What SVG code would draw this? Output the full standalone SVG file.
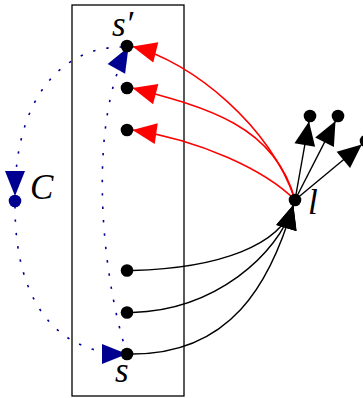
<svg xmlns="http://www.w3.org/2000/svg" width="363" height="398" viewBox="0 0 363 398">
<defs>
<marker id="ab" markerUnits="userSpaceOnUse" markerWidth="28" markerHeight="24" viewBox="-28 -12 28 24" refX="0" refY="0" orient="auto" overflow="visible"><path d="M0,0 L-24,-10.5 L-24,10.5 Z" fill="#000"/></marker>
<marker id="ar" markerUnits="userSpaceOnUse" markerWidth="28" markerHeight="24" viewBox="-28 -12 28 24" refX="0" refY="0" orient="auto" overflow="visible"><path d="M0,0 L-24,-10.5 L-24,10.5 Z" fill="#ff0000"/></marker>
<marker id="au" markerUnits="userSpaceOnUse" markerWidth="28" markerHeight="24" viewBox="-28 -12 28 24" refX="0" refY="0" orient="auto" overflow="visible"><path d="M0,0 L-25,-10 L-25,10 Z" fill="#000090"/></marker>
</defs>
<style>
.blk{fill:none;stroke:#000;stroke-width:1.4}
.red{fill:none;stroke:#ff0000;stroke-width:1.5}
.blu{fill:none;stroke:#000090;stroke-width:1.6;stroke-dasharray:2.4 11}
.lbl{font-family:"Liberation Serif","Times New Roman",serif;font-style:italic;font-size:35px;fill:#000}
</style>
<rect x="72" y="5" width="112" height="391" fill="none" stroke="#000" stroke-width="1.3"/>
<g id="connectors">
<path class="blu" d="M127,354 C100,270 88,120 128.5,47" marker-end="url(#au)"/>
<path class="blu" d="M122,47 C60,47 15,100 15,196" marker-end="url(#au)"/>
<path class="blu" d="M15,206 C15,300 55,354 127,354" marker-end="url(#au)"/>
<path class="red" d="M295,200 C272,128 192.5,61.5 132.5,46.5" marker-end="url(#ar)"/>
<path class="red" d="M295,200 C275,125 205,107 132.5,88" marker-end="url(#ar)"/>
<path class="red" d="M295,200 C265,170 200,140 132.5,130" marker-end="url(#ar)"/>
<path class="blk" d="M132.5,270.5 C220,268 281,245 293.3,205" marker-end="url(#ab)"/>
<path class="blk" d="M132.5,312.5 C215,310 278,255 293.3,205" marker-end="url(#ab)"/>
<path class="blk" d="M132.5,354 C230,354 270,285 293.3,205" marker-end="url(#ab)"/>
<path class="blk" d="M295,200 L309,121.4" marker-end="url(#ab)"/>
<path class="blk" d="M295,200 L335.5,120.9" marker-end="url(#ab)"/>
<path class="blk" d="M295,200 L361.8,144.5" marker-end="url(#ab)"/>
</g>
<g id="s-prime"><circle cx="127" cy="46" r="6.3"/><text class="lbl" x="112" y="36">s′</text></g>
<g id="n2"><circle cx="127" cy="88" r="6.3"/></g>
<g id="n3"><circle cx="127" cy="130" r="6.3"/></g>
<g id="n4"><circle cx="127" cy="270.5" r="6.3"/></g>
<g id="n5"><circle cx="127" cy="312.5" r="6.3"/></g>
<g id="s"><circle cx="127" cy="354" r="6.3"/><text class="lbl" x="115" y="382">s</text></g>
<g id="l"><circle cx="295" cy="200" r="6.3"/><text class="lbl" x="308" y="214">l</text></g>
<g id="t1"><circle cx="310" cy="116" r="6.3"/></g>
<g id="t2"><circle cx="338" cy="116" r="6.3"/></g>
<g id="t3"><circle cx="366" cy="141" r="6.3"/></g>
<g id="C"><circle cx="15" cy="201" r="6.3" fill="#000090"/><text class="lbl" x="30" y="199">C</text></g>
</svg>
